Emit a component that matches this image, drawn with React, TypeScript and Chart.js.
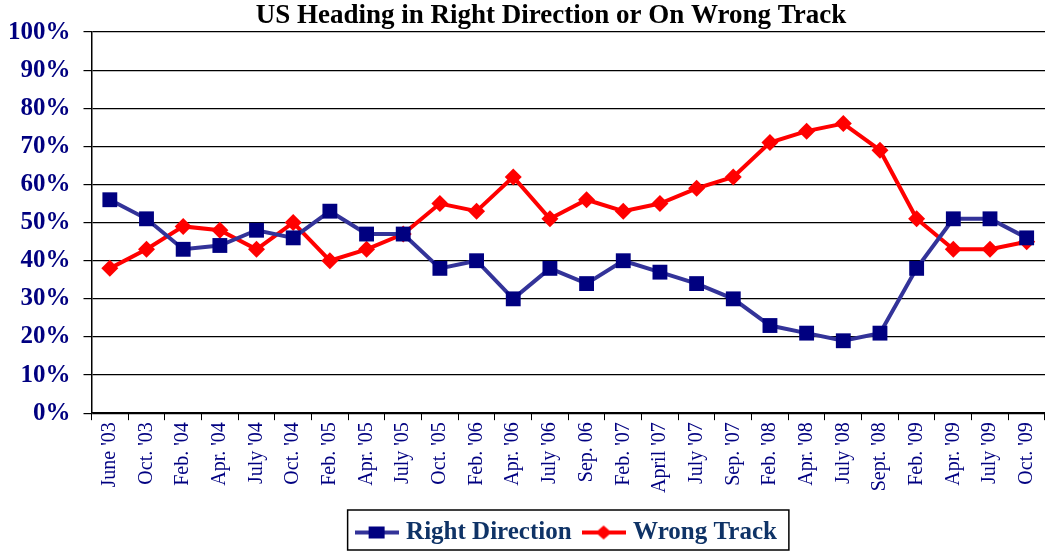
import React, { useEffect, useRef } from "react";
import { Chart, registerables } from "chart.js";

Chart.register(...registerables);

const categories = [
  "June '03", "Oct. '03", "Feb. '04", "Apr. '04", "July '04", "Oct. '04",
  "Feb. '05", "Apr. '05", "July '05", "Oct. '05", "Feb. '06", "Apr. '06",
  "July '06", "Sep. 06", "Feb. '07", "April '07", "July '07", "Sep. '07",
  "Feb. '08", "Apr. '08", "July '08", "Sept. '08", "Feb. '09", "Apr. '09",
  "July '09", "Oct. '09",
];

const rightDirection = [
  56, 51, 43, 44, 48, 46, 53, 47, 47, 38, 40, 30, 38, 34, 40, 37, 34, 30,
  23, 21, 19, 21, 38, 51, 51, 46,
];

const wrongTrack = [
  38, 43, 49, 48, 43, 50, 40, 43, 47, 55, 53, 62, 51, 56, 53, 55, 59, 62,
  71, 74, 76, 69, 51, 43, 43, 45,
];

const yTicks = [0, 10, 20, 30, 40, 50, 60, 70, 80, 90, 100];

const SERIF = "'Liberation Serif', 'Times New Roman', serif";

const ICON_W = 44;
const ICON_SLOT = 34;
const LEGEND_PAD = 15;

function makeIcon(kind: "rect" | "diamond", lineColor: string, markColor: string) {
  const c = document.createElement("canvas");
  c.width = ICON_W;
  c.height = 18;
  const ctx = c.getContext("2d")!;
  ctx.strokeStyle = lineColor;
  ctx.lineWidth = 4;
  ctx.beginPath();
  ctx.moveTo(0, 9);
  ctx.lineTo(ICON_W, 9);
  ctx.stroke();
  ctx.fillStyle = markColor;
  if (kind === "rect") {
    ctx.fillRect(14, 3, 16, 12);
  } else {
    ctx.beginPath();
    ctx.moveTo(22, 2);
    ctx.lineTo(30, 9);
    ctx.lineTo(22, 16);
    ctx.lineTo(14, 9);
    ctx.closePath();
    ctx.fill();
  }
  return c;
}

const layoutTweaks = {
  id: "layoutTweaks",
  afterUpdate(chart: any) {
    const lg = chart.legend;
    if (lg) {
      lg.left = chart.chartArea.left;
      lg.right = chart.chartArea.right;
      if (lg.adjustHitBoxes) lg.adjustHitBoxes();
    }
    const tb = chart.titleBlock;
    if (tb) {
      tb.left = 57;
    }
  },
  afterDraw(chart: any) {
    const lg = chart.legend;
    if (!lg || !lg.lineWidths) return;
    const rowW = lg.lineWidths[0];
    const x0 = (lg.left + LEGEND_PAD + lg.right - rowW) / 2;
    const x1 = x0 + rowW - LEGEND_PAD;
    const over = (ICON_W - ICON_SLOT) / 2;
    const cy = (lg.top + lg.bottom) / 2;
    const ctx = chart.ctx;
    ctx.save();
    ctx.strokeStyle = "#000";
    ctx.lineWidth = 1.5;
    ctx.strokeRect(x0 - over - 7, cy - 20, x1 - x0 + over + 7 + 12, 40);
    ctx.restore();
  },
};

export default function App() {
  const ref = useRef<HTMLCanvasElement | null>(null);

  useEffect(() => {
    if (!ref.current) return;
    const iconRD = makeIcon("rect", "#333399", "#000080");
    const iconWT = makeIcon("diamond", "#FF0000", "#FF0000");
    const chart = new Chart(ref.current, {
      type: "line",
      data: {
        labels: categories,
        datasets: [
          {
            label: "Right Direction",
            data: rightDirection,
            borderColor: "#333399",
            backgroundColor: "#000080",
            borderWidth: 4,
            pointStyle: "rect",
            pointRadius: 10.5,
            pointBackgroundColor: "#000080",
            pointBorderColor: "#000080",
            pointBorderWidth: 0,
            tension: 0,
            clip: false,
          },
          {
            label: "Wrong Track",
            data: wrongTrack,
            borderColor: "#FF0000",
            backgroundColor: "#FF0000",
            borderWidth: 4,
            pointStyle: "rectRot",
            pointRadius: 8.5,
            pointBackgroundColor: "#FF0000",
            pointBorderColor: "#FF0000",
            pointBorderWidth: 0,
            tension: 0,
            clip: false,
          },
        ],
      },
      options: {
        animation: false,
        responsive: true,
        maintainAspectRatio: false,
        layout: { autoPadding: false, padding: { top: 0, left: -5, right: 0, bottom: -3 } },
        plugins: {
          title: {
            display: true,
            text: "US Heading in Right Direction or On Wrong Track",
            color: "#000",
            font: { family: SERIF, size: 27, weight: "bold", lineHeight: 1.15 },
            padding: { top: 1, bottom: 0 },
          },
          legend: {
            display: true,
            position: "bottom",
            labels: {
              usePointStyle: true,
              pointStyleWidth: ICON_SLOT,
              padding: LEGEND_PAD,
              color: "#0F3366",
              font: { family: SERIF, size: 25, weight: "bold" },
              generateLabels: (ch: any) =>
                ch.data.datasets.map((ds: any, i: number) => ({
                  text: ds.label,
                  pointStyle: i === 0 ? iconRD : iconWT,
                  fillStyle: "transparent",
                  strokeStyle: "transparent",
                  lineWidth: 0,
                  datasetIndex: i,
                  hidden: false,
                  fontColor: "#0F3366",
                })),
            },
          },
          tooltip: { enabled: false },
        },
        scales: {
          x: {
            type: "category",
            offset: true,
            afterFit: (scale: any) => {
              scale.height += 10;
              scale.paddingLeft = 0;
              scale.paddingRight = 0;
            },
            grid: {
              display: true,
              drawOnChartArea: false,
              drawTicks: true,
              tickLength: 7,
              color: "#000",
              offset: true,
            },
            border: { display: true, color: "#000", width: 1.5 },
            ticks: {
              color: "#000080",
              font: { family: SERIF, size: 20 },
              minRotation: 90,
              maxRotation: 90,
              autoSkip: false,
              padding: 2,
            },
          },
          y: {
            min: 0,
            max: 100,
            afterBuildTicks: (axis: any) => {
              axis.ticks = yTicks.map((v) => ({ value: v }));
            },
            grid: {
              color: "#000",
              lineWidth: 1.2,
              tickLength: 8,
              drawTicks: true,
            },
            border: { display: true, color: "#000", width: 1.5 },
            ticks: {
              color: "#000080",
              font: { family: SERIF, size: 25, weight: "bold" },
              padding: 13,
              callback: (v: any) => v + "%",
            },
          },
        },
      },
      plugins: [layoutTweaks],
    });
    return () => chart.destroy();
  }, []);

  return (
    <div style={{ position: "fixed", left: 0, top: 0, width: 1045, height: 552, background: "#fff" }}>
      <canvas ref={ref} />
    </div>
  );
}
